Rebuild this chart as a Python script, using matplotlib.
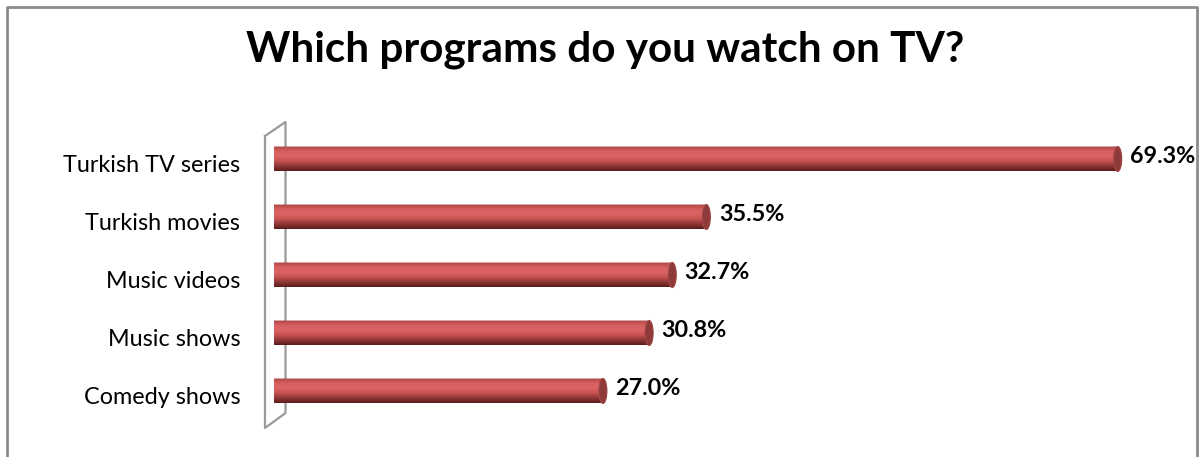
import numpy as np
import matplotlib
matplotlib.use("Agg")
import matplotlib.pyplot as plt
from matplotlib.path import Path
from matplotlib.patches import PathPatch, Ellipse
from matplotlib.lines import Line2D
from matplotlib.colors import LinearSegmentedColormap

plt.rcParams["font.family"] = ["Lato", "DejaVu Sans"]

TITLE = "Which programs do you watch on TV?"
categories = ["Turkish TV series", "Turkish movies", "Music videos", "Music shows", "Comedy shows"]
values = [69.3, 35.5, 32.7, 30.8, 27.0]

W, H = 1204, 457
fig = plt.figure(figsize=(W / 100, H / 100), dpi=100)

# plot area in pixels: zero at x=274, 12.17 px per percent; rows 58 px apart
ax = fig.add_axes([274.3 / W, (H - 425.8) / H, 912.75 / W, 301.6 / H])
ax.set_xlim(0, 75)
ax.set_ylim(-0.6, 4.6)
ax.axis("off")

ypos = np.arange(len(categories))[::-1]
bar_h = 0.43
rx = 0.33  # half-width of the end ellipses, in percent units

cyl = LinearSegmentedColormap.from_list(
    "cyl", ["#5a1c1c", "#8e3636", "#c65252", "#dc6464", "#d85f5f", "#a84444"])
grad = np.linspace(0, 1, 256).reshape(-1, 1)


def body_path(x1, yc):
    t = np.linspace(np.pi / 2, 3 * np.pi / 2, 40)
    left = np.column_stack([rx * np.cos(t), yc + bar_h / 2 * np.sin(t)])
    t2 = np.linspace(-np.pi / 2, np.pi / 2, 40)
    right = np.column_stack([x1 + rx * np.cos(t2), yc + bar_h / 2 * np.sin(t2)])
    pts = np.vstack([left, right, left[:1]])
    return Path(pts)


for cat, v, yc in zip(categories, values, ypos):
    patch = PathPatch(body_path(v, yc), facecolor="none", edgecolor="none")
    ax.add_patch(patch)
    im = ax.imshow(grad, cmap=cyl, aspect="auto", interpolation="bilinear",
                   extent=(-rx, v + rx, yc - bar_h / 2, yc + bar_h / 2),
                   origin="lower", zorder=2)
    im.set_clip_path(patch)
    ax.add_patch(Ellipse((v, yc), 2 * rx, bar_h, facecolor="#8f3a3a",
                         edgecolor="#a24848", linewidth=0.8, zorder=3))
    ax.annotate(f"{v:.1f}%", xy=(v, yc), xytext=(9, 1.5), textcoords="offset points",
                ha="left", va="center", fontsize=16.8, fontweight="bold", color="black")
    ax.annotate(cat, xy=(0, yc), xytext=(-24.5, -5), textcoords="offset points",
                ha="right", va="center", fontsize=16.8, color="black",
                annotation_clip=False)

ax.set_xlim(0, 75)
ax.set_ylim(-0.6, 4.6)


def px_line(xs, ys, **kw):
    line = Line2D(np.array(xs) / W, 1 - np.array(ys) / H, transform=fig.transFigure,
                  clip_on=False, **kw)
    ax.add_line(line)


# side wall of the 3-D plot area, behind the bars
px_line([265, 285.5, 285.5, 265, 265], [136, 122, 413, 428, 136],
        color="#9a9a9a", lw=1.6, zorder=1)

# chart border (open at the bottom)
fig.add_artist(Line2D(np.array([7, 7, 1197, 1197]) / W,
                      1 - np.array([H + 5, 6.5, 6.5, H + 5]) / H,
                      transform=fig.transFigure, color="#8c8c8c", lw=2.0))

fig.text(605 / W, 1 - 50 / H, TITLE, ha="center", va="center",
         fontsize=30.4, fontweight="bold", color="black")

fig.savefig("out.png", dpi=100)
